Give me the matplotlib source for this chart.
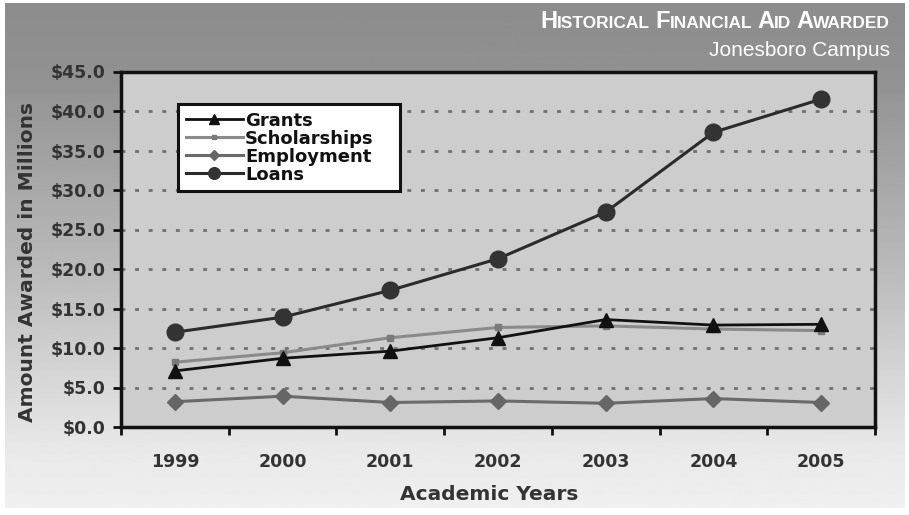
import numpy as np
import matplotlib
matplotlib.use('Agg')
import matplotlib.pyplot as plt

years = ['1999', '2000', '2001', '2002', '2003', '2004', '2005']
grants = [7.1, 8.7, 9.6, 11.3, 13.6, 12.9, 13.0]
scholarships = [8.2, 9.4, 11.3, 12.6, 12.8, 12.4, 12.2]
employment = [3.2, 3.9, 3.1, 3.3, 3.0, 3.6, 3.1]
loans = [12.0, 13.9, 17.3, 21.3, 27.2, 37.3, 41.5]

yticks = np.arange(0, 46, 5)

W, H = 909, 515
fig = plt.figure(figsize=(W/100, H/100), dpi=100, facecolor='white')

# grey gradient background with a thin white margin
bg = fig.add_axes([0, 0, 1, 1], zorder=-10)
grad = np.interp(np.linspace(0, 1, 300), [0, 0.15, 0.55, 0.88, 1], [0.55, 0.57, 0.74, 0.91, 0.94])
bg.imshow(grad[:, None], cmap='gray', vmin=0, vmax=1, aspect='auto',
          extent=[5/W, 905/W, 7/H, 1-3/H], origin='upper')
bg.set_xlim(0, 1)
bg.set_ylim(0, 1)
bg.axis('off')

ax = fig.add_axes([121/W, 1-427/H, 754/W, 355.5/H])
ax.set_facecolor('#cdcdcd')
x = np.arange(len(years))

grid_style = (0, (1.4, 3.5))
for v in yticks[1:-1]:
    ax.axhline(v, color='#707070', lw=2, linestyle=grid_style, zorder=1)

ax.plot(x, employment, color='#6a6a6a', lw=2.2, marker='D', ms=8, mfc='#666666', mec='#666666',
        label='Employment', zorder=3)
ax.plot(x, scholarships, color='#8a8a8a', lw=2.2, marker='s', ms=5, mfc='#7a7a7a', mec='#7a7a7a',
        label='Scholarships', zorder=4)
ax.plot(x, grants, color='#111111', lw=2.0, marker='^', ms=10, mfc='#111111', mec='#111111',
        label='Grants', zorder=5)
ax.plot(x, loans, color='#2b2b2b', lw=2.2, marker='o', ms=12, mfc='#333333', mec='#333333',
        label='Loans', zorder=6)

ax.set_xlim(-0.5, len(years) - 0.5)
ax.set_ylim(0, 45)
ax.set_yticks(yticks)
ax.set_yticklabels(['${:.1f}'.format(v) for v in yticks])
ax.set_xticks(x)
ax.set_xticklabels(years)
ax.set_xticks(np.arange(-0.5, len(years)), minor=True)
ax.tick_params(axis='x', which='major', length=0, pad=19)
ax.tick_params(axis='x', which='minor', length=6, width=2, color='#111111', direction='out')
ax.tick_params(axis='y', length=6, width=2, color='#111111', direction='out', pad=5)
for lab in ax.get_xticklabels() + ax.get_yticklabels():
    lab.set_fontfamily('DejaVu Sans')
    lab.set_fontweight('bold')
    lab.set_fontsize(12.5)
    lab.set_color('#333333')
for s in ax.spines.values():
    s.set_linewidth(2.5)
    s.set_color('#111111')

h, l = ax.get_legend_handles_labels()
order = [2, 1, 0, 3]
leg = ax.legend([h[i] for i in order], [l[i] for i in order], loc='upper left',
                bbox_to_anchor=(0.076, 0.0, 0.294, 0.9077), mode='expand', borderaxespad=0,
                prop={'family': 'DejaVu Sans', 'weight': 'bold', 'size': 13},
                handlelength=3.2, handletextpad=0.1, labelspacing=0.0, borderpad=0.4,
                markerscale=0.7, fancybox=False, framealpha=1, facecolor='white',
                edgecolor='#111111')
leg.get_frame().set_linewidth(2.2)
for t in leg.get_texts():
    t.set_color('#111111')

fig.text(28/W, 1-262/H, 'Amount Awarded in Millions', rotation=90, ha='center', va='center',
         fontsize=14.5, fontweight='bold', family='DejaVu Sans', color='#333333')
fig.text(489/W, 1-500/H, 'Academic Years', ha='center', va='baseline',
         fontsize=14.5, fontweight='bold', family='DejaVu Sans', color='#333333')

# small caps title, built piece by piece from the right edge
renderer = fig.canvas.get_renderer()
title_words = ['Historical', 'Financial', 'Aid', 'Awarded']
big, small = 17, 12.5
pieces = []
for i, w in enumerate(title_words):
    pieces.append((w[0].upper(), big, 0))
    gap = 0 if i == len(title_words) - 1 else small * 1.389 * 0.28
    pieces.append((w[1:].upper(), small, gap))
texts = []
total = 0
for s, size, gap in pieces:
    t = fig.text(0, 0, s, fontsize=size, fontweight='bold', family='Liberation Sans',
                 color='white', va='baseline', ha='left')
    wpx = t.get_window_extent(renderer).width
    texts.append((t, wpx, gap))
    total += wpx + gap
xpos = 890 - total
for t, wpx, gap in texts:
    t.set_position((xpos/W, 1-28.3/H))
    xpos += wpx + gap

fig.text(890/W, 1-56/H, 'Jonesboro Campus', ha='right', va='baseline', fontsize=15,
         family='Liberation Sans', color='white')

fig.savefig('out.png', dpi=100, facecolor='white')
